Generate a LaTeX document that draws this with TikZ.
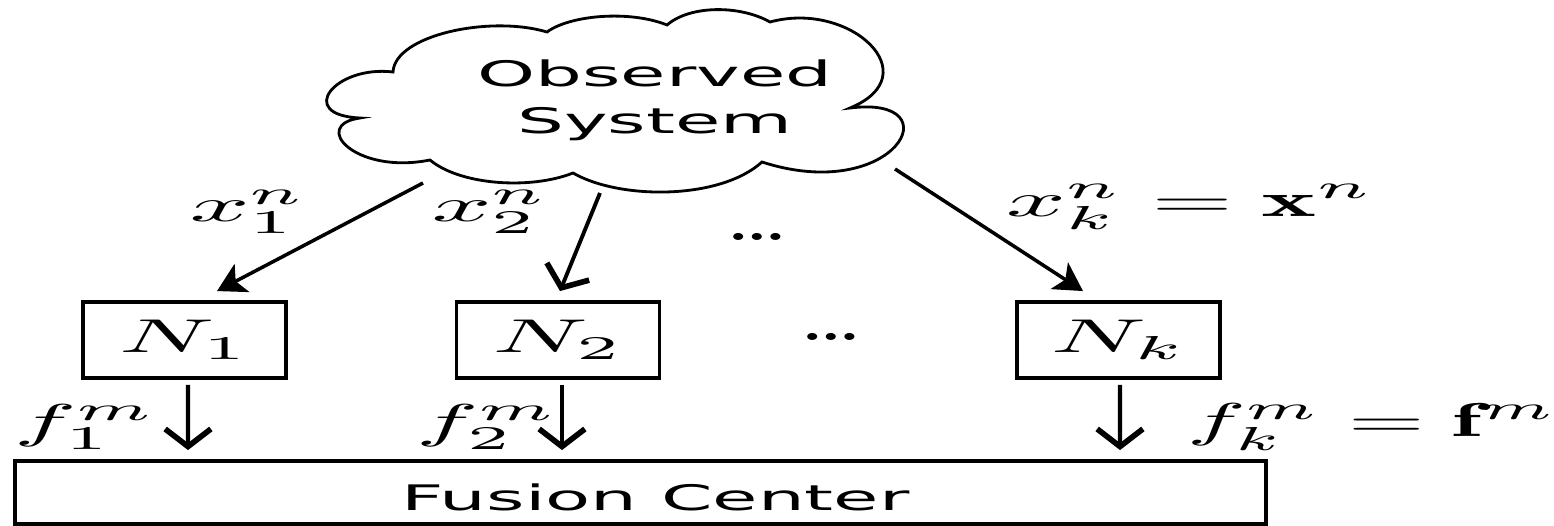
\documentclass[tikz,border=0pt]{standalone}
\usepackage{fontspec}
\newfontfamily\labelsans{DejaVu Sans}
\usetikzlibrary{arrows.meta,calc}
% wide lettering used throughout the figure
\newcommand\wtxt[1]{\scalebox{2.1}[1]{#1}}
\newcommand\wmath[1]{\scalebox{2.97}[1.35]{$#1$}}
\newcommand\wdots{\scalebox{2.7}[1.9]{\ldots}}

\begin{document}
\begin{tikzpicture}[x=1cm,y=1cm,
  cloudline/.style={line width=0.8pt},
  nodebox/.style={draw, line width=1.1pt, minimum width=2.03cm, minimum height=0.76cm, inner sep=0pt},
  fcbox/.style={draw, line width=1.1pt, minimum width=12.51cm, minimum height=0.63cm, inner sep=0pt,
                text height=10.3pt, text depth=0pt},
  sans/.style={font=\labelsans\fontsize{10}{13.4}\selectfont, align=center},
  lbl/.style={inner sep=0pt},
  diag/.style={line width=1pt, -{Stealth[length=8pt,width=9pt,inset=2pt]}},
  feed/.style={line width=1.2pt, -{Straight Barb[length=5pt,width=13pt,line width=1.6pt]}}]
\useasboundingbox (0,0) rectangle (15.54,5.25);

% observed system cloud
\draw[cloudline] (3.93,4.53)
  .. controls (3.95,4.90) and (4.90,5.10) .. (5.47,4.93)
  .. controls (5.70,5.10) and (6.30,5.15) .. (6.67,5.00)
  .. controls (6.90,5.20) and (7.40,5.20) .. (7.70,5.03)
  .. controls (8.50,5.25) and (9.30,4.50) .. (8.50,4.17)
  .. controls (9.55,4.30) and (8.95,3.20) .. (7.62,3.63)
  .. controls (7.20,3.25) and (6.20,3.25) .. (5.73,3.52)
  .. controls (5.30,3.35) and (4.60,3.40) .. (4.30,3.65)
  .. controls (3.55,3.50) and (3.10,4.00) .. (3.60,4.07)
  .. controls (2.95,4.10) and (3.35,4.60) .. cycle;
\node[sans] (obs) at (6.55,4.25) {\wtxt{Observed}\\\wtxt{System}};

% start points of the measurement arrows on the cloud rim
\coordinate (s1) at (4.23,3.42);
\coordinate (s2) at (6.00,3.32);
\coordinate (sk) at (8.95,3.56);

% sensor nodes
\node[nodebox] (n1) at (1.845,1.85) {\wmath{N_1}};
\node[nodebox] (n2) at (5.58,1.85) {\wmath{N_2}};
\node[nodebox] (nk) at (11.185,1.85) {\wmath{N_k}};

% fusion center
\node[fcbox, sans] (fc) at (6.405,0.325) {\hspace*{0.3cm}\wtxt{Fusion Center}};

% observations
\draw[diag] (s1) -- ($(n1.north)+(0.325,0.09)$);
\draw[feed, line width=1.1pt] (s2) -- ($(n2.north)+(0.02,0.09)$);
\draw[diag] (sk) -- ($(nk.north)+(-0.355,0.09)$);

\node[lbl] (x1) at (2.48,3.13) {\wmath{x_1^n}};
\node[lbl] (x2) at (4.90,3.13) {\wmath{x_2^n}};
\node[lbl] (xk) at (11.90,3.18) {\wmath{x_k^n = \mathbf{x}^n}};
\node[lbl] (d1) at (7.57,2.88) {\wdots};
\node[lbl] (d2) at (8.31,1.88) {\wdots};

% local decisions sent to the fusion center
\draw[feed] ([xshift=0.035cm,yshift=-0.05cm]n1.south) -- ([xshift=-4.525cm,yshift=0.09cm]fc.north);
\draw[feed] ([xshift=0.04cm,yshift=-0.05cm]n2.south) -- ([xshift=-0.785cm,yshift=0.09cm]fc.north);
\draw[feed] ([xshift=0.015cm,yshift=-0.05cm]nk.south) -- ([xshift=4.795cm,yshift=0.09cm]fc.north);

\node[lbl] (f1) at (0.85,0.98) {\wmath{f_1^m}};
\node[lbl] (f2) at (4.87,0.98) {\wmath{f_2^m}};
\node[lbl] (fk) at (13.72,0.98) {\scalebox{2.8}[1.35]{$f_k^m = \mathbf{f}^m$}};
\end{tikzpicture}
\end{document}
